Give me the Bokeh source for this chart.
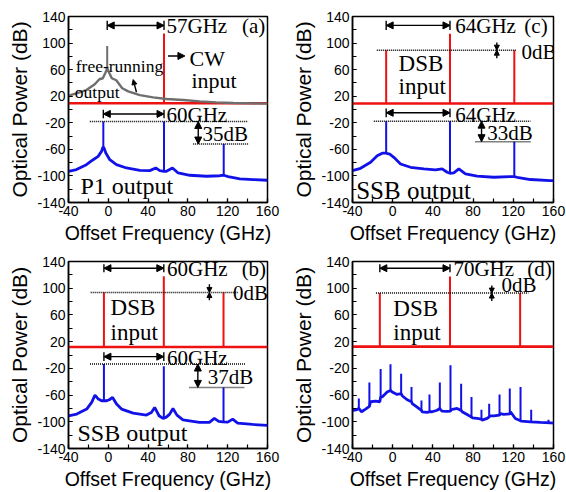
from bokeh.plotting import figure
from bokeh.layouts import gridplot
from bokeh.models import FixedTicker, Label, Arrow, NormalHead, Range1d
from bokeh.embed import file_html
from bokeh.resources import INLINE

# ---------------- axes ----------------
X_MAJOR = [-40, 0, 40, 80, 120, 160]
X_MINOR = [-40, -20, 0, 20, 40, 60, 80, 100, 120, 140, 160]
Y_MAJOR = [-140, -100, -60, -20, 20, 60, 100, 140]
Y_MINOR = [-140, -120, -100, -80, -60, -40, -20, 0, 20, 40, 60, 80, 100, 120, 140]
X_LABEL = "Offset Frequency (GHz)"
Y_LABEL = "Optical Power (dB)"

RED = "#ee1111"
BLUE = "#1212e8"
GRAY = "#6e6e6e"
SERIF = "Liberation Serif"
SANS = "Liberation Sans"

# ---------------- panel (a) ----------------
a_red_f = [-40, 160]
a_red_p = [9.5, 9.5]
a_red_spike_f = [56]
a_red_spike_base = [9.5]
a_red_spike_top = [114.5]

a_gray_f = [-40, -32, -22, -13.6, -9, -5.5, -3, -1.1, 1, 3.5, 8, 11, 14, 20, 31.7, 45.1, 58.5, 75.3, 92, 108.7, 125.5, 142, 160]
a_gray_p = [21, 24.2, 29.2, 38, 45.5, 47, 55, 62, 55, 47, 44, 38, 32, 27.3, 21.7, 18.3, 15.8, 14.3, 12.3, 10.8, 9.8, 9.3, 8.8]
a_gray_spike_f = [-1.1]
a_gray_spike_base = [62]
a_gray_spike_top = [95.5]

a_blue_f = [-40, -32, -22, -15.2, -10.2, -6.8, -5.5, -4.5, -2.5, 1.5, 8.2, 18.3, 31.7, 41.7, 47.7, 51.7, 56, 58.4, 64.5, 70.2, 81.9, 98.7, 112, 116, 120.5, 132.2, 145.6, 160]
a_blue_p = [-93, -90.5, -83, -75.6, -70.6, -63, -57, -57, -65.6, -75.6, -83, -88, -91.6, -92, -88, -92, -93, -93, -88, -95.5, -99, -100.5, -99.7, -99, -101, -104.5, -105.5, -106.5]
a_blue_spike_f = [-5, 56, 116]
a_blue_spike_base = [-57, -93, -99]
a_blue_spike_top = [-18, -18, -52]

# ---------------- panel (c) ----------------
c_red_f = [-40, 160]
c_red_p = [9, 9]
c_red_spike_f = [-6.5, 57, 121]
c_red_spike_base = [9, 9, 9]
c_red_spike_top = [89.3, 114, 89.3]

c_blue_f = [-40, -32, -22, -15.4, -10.4, -7.1, -2.9, 1.1, 7.8, 17.7, 31, 42.6, 49.2, 54.2, 57, 60.8, 65.8, 72.4, 84, 100.6, 117.2, 121, 123.8, 137.1, 157, 160]
c_blue_p = [-92, -88.5, -79.5, -69.7, -65.7, -65.7, -67.2, -72, -82, -87, -89.5, -91, -89.5, -94.5, -96, -95.5, -89.5, -97, -100.4, -102, -101, -101, -102, -105.4, -107, -107]
c_blue_spike_f = [-6.5, 57, 121]
c_blue_spike_base = [-65.7, -96, -101]
c_blue_spike_top = [-17.5, -17.5, -48.5]

# ---------------- panel (b) ----------------
b_red_f = [-40, 160]
b_red_p = [12, 12]
b_red_spike_f = [-4.4, 55.8, 115.8]
b_red_spike_base = [12, 12, 12]
b_red_spike_top = [93.5, 118, 93.5]

b_blue_f = [-40, -31.7, -21.7, -16.7, -13.4, -10, -6.7, -4.4, -1.7, 1, 4.3, 8.3, 13.3, 25, 38.3, 43.3, 46.6, 51, 55, 58.3, 61.7, 65, 69, 75, 91.6, 101.6, 106.6, 111, 115, 120, 125, 130, 145, 160]
b_blue_p = [-91, -88.5, -81, -71, -60, -66, -68.5, -68.5, -68.5, -67, -63.5, -73.5, -81, -87, -90, -86, -78.5, -91, -95, -93, -88.5, -80, -90, -97, -101, -101, -95, -99.5, -100, -100.5, -96, -102, -104, -105.5]
b_blue_spike_f = [-4.4, 55.8, 115.8]
b_blue_spike_base = [-68.5, -95, -100]
b_blue_spike_top = [-13.5, -17, -48.5]

# ---------------- panel (d) ----------------
d_red_f = [-40, 160]
d_red_p = [12.5, 12.5]
d_red_spike_f = [-12.8, 57, 126.8]
d_red_spike_base = [12.5, 12.5, 12.5]
d_red_spike_top = [92.7, 117.6, 92.7]

d_blue_f = [-40, -36, -33.7, -31, -27, -23.2, -22, -17, -12.8, -12, -10.5, -5.5, -2.2, -0.5, 4.4, 8.4, 9.4, 14.4, 18.7, 19.4, 24.3, 28.6, 29.3, 34.3, 36.6, 39.3, 44.2, 46.9, 47.6, 49.2, 54.2, 57.5, 58.3, 64.1, 68.1, 69.1, 74, 78.4, 79.2, 84, 88.3, 89, 94, 96, 96.8, 100.6, 106.3, 107, 110.6, 116.5, 117.2, 122, 127.2, 128, 137, 147, 157, 160]
d_blue_p = [-83, -82, -80, -85, -81, -77, -70, -69, -70, -63, -62.8, -55.3, -53, -55.3, -59, -58, -61, -67, -70, -72.7, -78, -83, -85, -86, -85, -85, -82.7, -80, -82, -84, -84.5, -84, -81.7, -80, -83, -85, -89, -93, -94, -95, -96, -97.6, -95, -92.6, -91, -91, -90, -87.7, -89, -88, -85, -95, -98.5, -99, -100, -101, -101.7, -102]
d_blue_spike_f = [-33.7, -23.2, -12, -2.2, 8.4, 18.7, 28.6, 36.6, 46.9, 57.5, 68.1, 78.4, 88.3, 96, 106.3, 116.5, 127.2, 137.8, 155]
d_blue_spike_base = [-80, -77, -63, -53, -58, -70, -83, -85, -80, -84, -83, -93, -96, -92.6, -90, -88, -98.5, -100, -101.5]
d_blue_spike_top = [-65, -41, -21, -14, -28, -48, -68, -59, -41, -15.5, -43, -63, -82, -73, -59, -50, -48, -82, -97]

TEXT_SHIFT = 8  # dB, lifts serif annotations onto their reference baselines


def make_fig(bl, br, bt, bb):
    p = figure(width=283, height=246, output_backend="svg", toolbar_location=None,
               x_range=Range1d(-40, 160), y_range=Range1d(-140, 140),
               min_border_left=bl, min_border_right=br,
               min_border_top=bt, min_border_bottom=bb)
    p.xgrid.visible = False
    p.ygrid.visible = False
    p.outline_line_color = "black"
    p.outline_line_width = 1.5
    p.outline_line_alpha = 1
    p.xaxis.ticker = FixedTicker(ticks=X_MAJOR, minor_ticks=X_MINOR)
    p.yaxis.ticker = FixedTicker(ticks=Y_MAJOR, minor_ticks=Y_MINOR)
    p.xaxis.major_label_overrides = {v: str(v) for v in X_MAJOR}
    p.yaxis.major_label_overrides = {v: str(v) for v in Y_MAJOR}
    p.xaxis.axis_label = X_LABEL
    p.yaxis.axis_label = Y_LABEL
    p.axis.axis_line_color = "black"
    p.axis.axis_line_width = 1.5
    p.axis.major_tick_in = 4
    p.axis.major_tick_out = 0
    p.axis.minor_tick_in = 4
    p.axis.minor_tick_out = 0
    p.axis.major_tick_line_color = "black"
    p.axis.minor_tick_line_color = "black"
    p.axis.major_tick_line_width = 1.2
    p.axis.minor_tick_line_width = 1.2
    p.axis.major_label_text_font = SANS
    p.axis.major_label_text_font_size = "14px"
    p.axis.major_label_text_color = "black"
    p.axis.major_label_standoff = 3
    p.axis.axis_label_text_font = SANS
    p.axis.axis_label_text_font_style = "normal"
    p.axis.axis_label_text_color = "black"
    p.axis.axis_label_standoff = 3
    p.xaxis.axis_label_text_font_size = "19.5px"
    p.yaxis.axis_label_text_font_size = "21px"
    return p


def trace(p, f, pw, sf, sb, st, color, width):
    p.line(f, pw, line_color=color, line_width=width)
    p.segment(x0=sf, y0=sb, x1=sf, y1=st, line_color=color, line_width=2)


def head(size):
    return NormalHead(size=size, fill_color="black", line_color="black")


def harrow(p, x0, x1, y, h):
    p.add_layout(Arrow(start=head(7), end=head(7),
                       x_start=x0, y_start=y, x_end=x1, y_end=y, line_width=1.4))
    p.segment(x0=[x0, x1], y0=[y - h, y - h], x1=[x0, x1], y1=[y + h, y + h],
              line_color="black", line_width=1.4)


def varrow(p, x, y0, y1, both=True, size=7):
    p.add_layout(Arrow(start=head(size) if both else None, end=head(size),
                       x_start=x, y_start=y0, x_end=x, y_end=y1, line_width=1.4))


def dotted(p, x0, x1, y):
    p.segment(x0=[x0], y0=[y], x1=[x1], y1=[y], line_color="black",
              line_width=1.5, line_dash="1 1")


def lab(p, x, y, text, size, align="left"):
    p.add_layout(Label(x=x, y=y + TEXT_SHIFT, text=text, text_font=SERIF, text_font_size=size,
                       text_color="black", text_align=align, text_baseline="alphabetic"))


# ---------- (a) ----------
pa = make_fig(68, 16, 16, 43)
trace(pa, a_red_f, a_red_p, a_red_spike_f, a_red_spike_base, a_red_spike_top, RED, 2.6)
trace(pa, a_gray_f, a_gray_p, a_gray_spike_f, a_gray_spike_base, a_gray_spike_top, GRAY, 2.4)
trace(pa, a_blue_f, a_blue_p, a_blue_spike_f, a_blue_spike_base, a_blue_spike_top, BLUE, 2.8)
harrow(pa, a_gray_spike_f[0], a_red_spike_f[0], 126.5, 7)
lab(pa, 58.5, 117, "57GHz", "21px")
lab(pa, 146, 117, "(a)", "21px", "center")
pa.add_layout(Arrow(end=head(7), x_start=60, y_start=80.6, x_end=77, y_end=80.6, line_width=1.4))
lab(pa, 81.6, 69, "CW", "22px")
lab(pa, 83.6, 35.7, "input", "22px")
lab(pa, -32.7, 57.2, "free-running", "17.5px")
lab(pa, -33.7, 18.3, "output", "17.5px")
pa.add_layout(Arrow(end=head(5), x_start=28.3, y_start=26, x_end=25, y_end=45, line_width=1.4))
harrow(pa, a_blue_spike_f[0], a_blue_spike_f[1], -6.7, 6.5)
lab(pa, 58.5, -17, "60GHz", "21px")
dotted(pa, -18.6, 140.5, a_blue_spike_top[0])
dotted(pa, 85.3, 140.5, a_blue_spike_top[2])
varrow(pa, 90.4, a_blue_spike_top[0], a_blue_spike_top[2])
lab(pa, 94.7, -44.6, "35dB", "21px")
lab(pa, -28, -123, "P1 output", "24px")

# ---------- (c) ----------
pc = make_fig(69, 13, 16, 43)
trace(pc, c_red_f, c_red_p, c_red_spike_f, c_red_spike_base, c_red_spike_top, RED, 2.6)
trace(pc, c_blue_f, c_blue_p, c_blue_spike_f, c_blue_spike_base, c_blue_spike_top, BLUE, 2.8)
harrow(pc, c_red_spike_f[0], c_red_spike_f[1], 126.6, 7)
lab(pc, 62.2, 117, "64GHz", "21px")
lab(pc, 142.6, 117, "(c)", "21px", "center")
dotted(pc, -15.8, 123.5, c_red_spike_top[0])
varrow(pc, 103.6, 101, c_red_spike_top[0], both=False, size=5)
varrow(pc, 103.6, 77, c_red_spike_top[0], both=False, size=5)
lab(pc, 128.2, 79.3, "0dB", "21px")
lab(pc, 5.8, 62, "DSB", "23px")
lab(pc, 5.8, 26, "input", "23px")
harrow(pc, c_blue_spike_f[0], c_blue_spike_f[1], -5, 6.5)
lab(pc, 62.2, -17, "64GHz", "21px")
dotted(pc, -18.8, 137, c_blue_spike_top[0])
dotted(pc, 82.4, 137, c_blue_spike_top[2])
varrow(pc, 88.4, c_blue_spike_top[0], c_blue_spike_top[2])
lab(pc, 94, -43.8, "33dB", "21px")
lab(pc, -36.3, -130, "SSB output", "25px")

# ---------- (b) ----------
pb = make_fig(68, 16, 15, 44)
trace(pb, b_red_f, b_red_p, b_red_spike_f, b_red_spike_base, b_red_spike_top, RED, 2.6)
trace(pb, b_blue_f, b_blue_p, b_blue_spike_f, b_blue_spike_base, b_blue_spike_top, BLUE, 2.8)
harrow(pb, b_red_spike_f[0], b_red_spike_f[1], 130, 6)
lab(pb, 59, 121.5, "60GHz", "21px")
lab(pb, 146.3, 121.5, "(b)", "21px", "center")
dotted(pb, -17.7, 130.6, b_red_spike_top[0])
varrow(pb, 101.6, 106, b_red_spike_top[0], both=False, size=5)
varrow(pb, 101.6, 82, b_red_spike_top[0], both=False, size=5)
lab(pb, 125.3, 85, "0dB", "21px")
lab(pb, 2.3, 62.5, "DSB", "23px")
lab(pb, 2.3, 25.5, "input", "23px")
harrow(pb, b_blue_spike_f[0], b_blue_spike_f[1], -2.5, 6.5)
lab(pb, 59, -12.5, "60GHz", "21px")
dotted(pb, -18.4, 138.3, b_blue_spike_top[0])
dotted(pb, 81.6, 136.6, b_blue_spike_top[2])
varrow(pb, 90, b_blue_spike_top[0], b_blue_spike_top[2])
lab(pb, 100, -41, "37dB", "21px")
lab(pb, -31, -124.3, "SSB output", "24px")

# ---------- (d) ----------
pd_ = make_fig(69, 13, 15, 44)
trace(pd_, d_red_f, d_red_p, d_red_spike_f, d_red_spike_base, d_red_spike_top, RED, 2.6)
trace(pd_, d_blue_f, d_blue_p, d_blue_spike_f, d_blue_spike_base, d_blue_spike_top, BLUE, 2.8)
harrow(pd_, d_red_spike_f[0], d_red_spike_f[1], 130, 6)
lab(pd_, 60.4, 121.5, "70GHz", "21px")
lab(pd_, 146, 121.5, "(d)", "21px", "center")
dotted(pd_, -16.7, 135, d_red_spike_top[0])
varrow(pd_, 98.6, 104, d_red_spike_top[0], both=False, size=5)
varrow(pd_, 98.6, 81, d_red_spike_top[0], both=False, size=5)
lab(pd_, 108.3, 96.2, "0dB", "21px")
lab(pd_, 0.6, 61, "DSB", "23px")
lab(pd_, 0.6, 25.5, "input", "23px")

grid = gridplot([[pa, pc], [pb, pd_]], toolbar_location=None)

open("out.html", "w").write(file_html(grid, INLINE))
